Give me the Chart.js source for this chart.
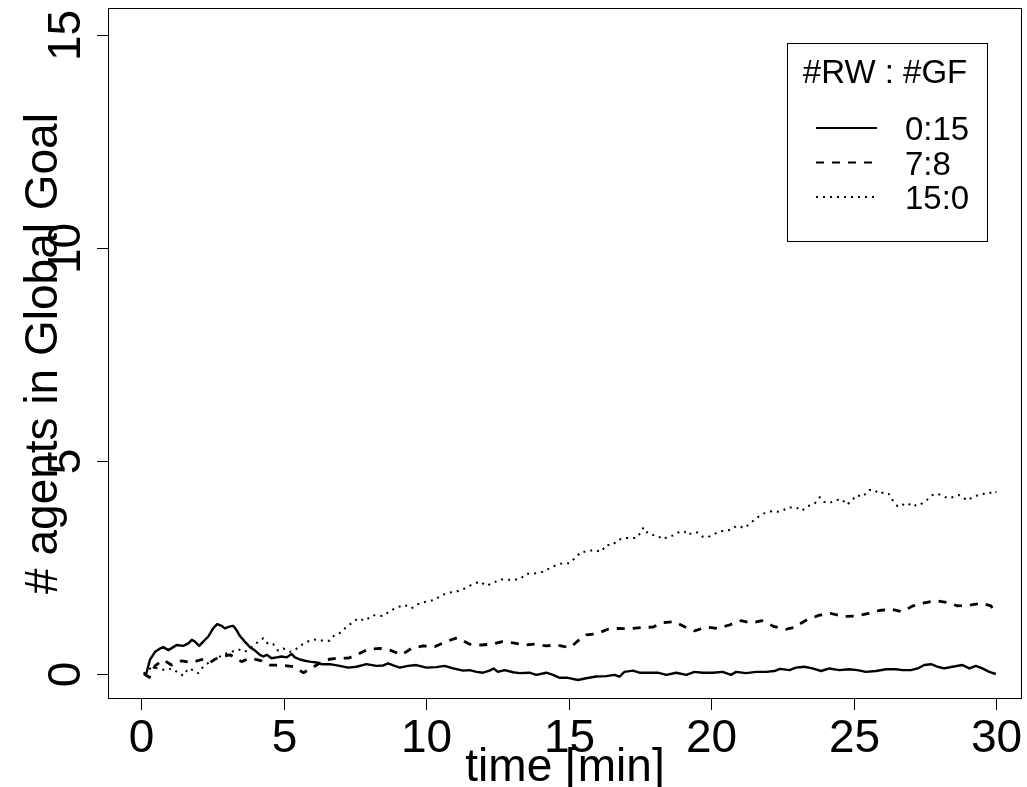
<!DOCTYPE html>
<html>
<head>
<meta charset="utf-8">
<script src="https://cdn.jsdelivr.net/npm/chart.js@4/dist/chart.umd.min.js"></script>
<style>
  html, body { margin: 0; padding: 0; background: #fff; }
  #wrap { width: 1027px; height: 787px; }
</style>
</head>
<body>
<div id="wrap"><canvas id="c" width="1027" height="787"></canvas></div>
<script>
// Agents in the global goal over time, for three RW:GF team mixes
const seriesLabels = ['0:15', '7:8', '15:0'];
const legendTitle = '#RW : #GF';
const xTitle = 'time [min]';
const yTitle = '# agents in Global Goal';
const xTicks = [0, 5, 10, 15, 20, 25, 30];
const yTicks = [0, 5, 10, 15];

// 0:15 (solid)
const solidT = [0.07,0.17,0.3,0.48,0.66,0.77,0.95,1.12,1.24,1.47,1.65,1.77,1.88,2.03,2.17,2.35,2.52,2.66,2.82,2.93,3.09,3.22,3.34,3.46,3.63,3.81,3.99,4.16,4.28,4.4,4.57,4.75,4.92,5.1,5.27,5.39,5.56,5.74,5.91,6.15,6.32,6.61,6.96,7.26,7.55,7.9,8.25,8.49,8.66,8.84,9.07,9.36,9.65,10.0,10.35,10.64,10.94,11.29,11.52,11.76,11.99,12.22,12.36,12.51,12.75,13.04,13.27,13.62,13.86,14.21,14.44,14.68,14.97,15.32,15.61,15.96,16.31,16.6,16.78,16.95,17.25,17.48,17.83,18.12,18.42,18.77,19.12,19.41,19.7,20.05,20.4,20.69,20.87,21.22,21.57,21.92,22.21,22.41,22.74,22.97,23.26,23.55,23.85,24.14,24.49,24.84,25.13,25.42,25.78,26.13,26.48,26.71,27.0,27.24,27.47,27.71,27.94,28.17,28.46,28.81,29.05,29.28,29.51,29.75,29.98];
const solidV = [0.02,0.0,0.33,0.52,0.6,0.63,0.56,0.63,0.68,0.66,0.72,0.8,0.76,0.66,0.76,0.88,1.07,1.17,1.13,1.07,1.11,1.13,1.03,0.89,0.76,0.63,0.55,0.45,0.41,0.45,0.37,0.39,0.41,0.39,0.47,0.39,0.34,0.31,0.29,0.27,0.23,0.23,0.19,0.15,0.17,0.23,0.19,0.2,0.25,0.2,0.15,0.19,0.21,0.15,0.16,0.19,0.13,0.08,0.09,0.05,0.03,0.08,0.13,0.05,0.09,0.04,0.02,0.03,-0.02,0.03,-0.02,-0.09,-0.09,-0.14,-0.1,-0.06,-0.05,-0.02,-0.06,0.05,0.08,0.03,0.03,0.03,-0.02,0.03,-0.02,0.05,0.03,0.03,0.05,-0.02,0.05,0.02,0.05,0.05,0.07,0.12,0.09,0.15,0.17,0.13,0.07,0.13,0.09,0.11,0.09,0.05,0.07,0.11,0.11,0.09,0.09,0.13,0.21,0.23,0.17,0.13,0.17,0.21,0.13,0.19,0.13,0.05,0.0];

// 7:8 (dashed)
const dashedT = [0.1,0.28,0.48,0.77,1.06,1.42,1.77,2.12,2.41,2.7,3.11,3.52,3.81,4.22,4.51,4.92,5.33,5.69,6.03,6.44,6.85,7.26,7.55,7.96,8.37,8.72,9.13,9.48,9.88,10.29,10.7,11.08,11.52,11.93,12.28,12.67,13.04,13.45,13.8,14.21,14.56,14.85,15.05,15.32,15.61,15.96,16.37,16.72,17.13,17.54,17.95,18.27,18.71,19.06,19.41,19.82,20.22,20.63,21.04,21.39,21.78,22.21,22.62,22.97,23.09,23.38,23.79,24.2,24.61,25.08,25.52,25.89,26.3,26.69,27.08,27.47,27.86,28.25,28.64,29.11,29.49,29.81,29.9];
const dashedV = [0.0,-0.08,0.19,0.33,0.21,0.31,0.27,0.34,0.27,0.39,0.45,0.29,0.37,0.31,0.21,0.21,0.17,0.03,0.16,0.33,0.37,0.37,0.45,0.58,0.6,0.56,0.45,0.6,0.66,0.64,0.76,0.85,0.7,0.68,0.7,0.76,0.73,0.68,0.7,0.66,0.68,0.64,0.62,0.78,0.92,0.94,1.05,1.07,1.06,1.09,1.1,1.2,1.23,1.11,1.01,1.1,1.07,1.15,1.25,1.2,1.25,1.11,1.05,1.1,1.17,1.28,1.38,1.42,1.35,1.36,1.42,1.49,1.52,1.46,1.6,1.67,1.72,1.68,1.6,1.62,1.66,1.6,1.5];

// 15:0 (dotted)
const dottedT = [0.1,0.36,0.6,0.83,1.06,1.3,1.47,1.65,1.82,2.0,2.17,2.41,2.64,2.93,3.17,3.4,3.63,3.87,4.05,4.28,4.45,4.63,4.8,4.98,5.21,5.39,5.56,5.74,5.97,6.15,6.38,6.61,6.79,6.96,7.14,7.29,7.37,7.61,7.84,8.13,8.49,8.72,9.01,9.24,9.48,9.71,10.0,10.29,10.53,10.82,11.05,11.35,11.64,11.87,12.11,12.34,12.63,12.92,13.27,13.51,13.8,14.09,14.33,14.56,14.79,15.03,15.26,15.44,15.67,15.84,16.14,16.31,16.54,16.72,17.01,17.36,17.5,17.62,17.77,17.95,18.12,18.3,18.47,18.71,18.88,19.06,19.17,19.35,19.52,19.7,19.87,20.05,20.26,20.46,20.69,20.87,21.01,21.16,21.39,21.63,21.8,21.98,22.15,22.33,22.5,22.68,22.97,23.18,23.38,23.61,23.81,23.96,24.14,24.37,24.58,24.75,24.93,25.1,25.31,25.54,25.72,25.87,26.04,26.22,26.36,26.53,26.69,26.83,27.04,27.2,27.41,27.59,27.76,27.94,28.11,28.32,28.52,28.7,28.99,29.16,29.37,29.57,29.75,29.89,30.0];
const dottedV = [0.0,0.16,0.13,0.09,0.13,0.03,-0.04,0.13,0.09,0.02,0.17,0.29,0.37,0.47,0.52,0.58,0.52,0.63,0.73,0.84,0.7,0.7,0.55,0.6,0.52,0.56,0.66,0.73,0.8,0.81,0.78,0.78,0.92,0.96,1.07,1.15,1.19,1.31,1.25,1.38,1.36,1.48,1.57,1.62,1.54,1.64,1.7,1.74,1.85,1.91,1.93,2.01,2.11,2.17,2.07,2.14,2.22,2.21,2.22,2.35,2.36,2.4,2.48,2.56,2.6,2.6,2.75,2.87,2.87,2.91,2.87,3.03,3.03,3.15,3.19,3.19,3.3,3.44,3.3,3.26,3.24,3.16,3.22,3.26,3.34,3.34,3.26,3.32,3.32,3.22,3.21,3.26,3.34,3.36,3.38,3.47,3.46,3.42,3.55,3.68,3.76,3.79,3.83,3.81,3.83,3.91,3.91,3.83,3.94,3.99,4.15,4.04,4.01,4.08,4.1,3.97,4.07,4.2,4.16,4.32,4.32,4.23,4.26,4.23,4.08,3.94,3.99,3.94,4.01,3.94,4.01,4.1,4.2,4.23,4.18,4.12,4.16,4.2,4.07,4.15,4.2,4.23,4.23,4.3,4.26];

const pts = (t, v) => t.map((x, i) => ({ x: x, y: v[i] }));

const FONT = '"Liberation Sans", Arial, Helvetica, sans-serif';

// Box, axes, tick labels, titles and legend in base-graphics style
const frame = {
  id: 'frame',
  afterDraw(chart) {
    const ctx = chart.ctx;
    const a = chart.chartArea;
    const xs = chart.scales.x, ys = chart.scales.y;
    ctx.save();
    ctx.strokeStyle = '#000';
    ctx.fillStyle = '#000';
    ctx.lineWidth = 1;
    ctx.setLineDash([]);
    ctx.strokeRect(a.left + 0.5, a.top + 0.5, a.right - a.left - 1, a.bottom - a.top - 1);

    // x axis ticks and labels
    ctx.font = '46px ' + FONT;
    ctx.textAlign = 'center';
    ctx.textBaseline = 'alphabetic';
    xTicks.forEach(v => {
      const px = Math.round(xs.getPixelForValue(v)) + 0.5;
      ctx.beginPath();
      ctx.moveTo(px, a.bottom);
      ctx.lineTo(px, a.bottom + 11);
      ctx.stroke();
      ctx.fillText(String(v), px, 752);
    });
    ctx.fillText(xTitle, (a.left + a.right) / 2, 781);

    // y axis ticks and rotated labels
    yTicks.forEach(v => {
      const py = Math.round(ys.getPixelForValue(v)) + 0.5;
      ctx.beginPath();
      ctx.moveTo(a.left, py);
      ctx.lineTo(a.left - 11, py);
      ctx.stroke();
      ctx.save();
      ctx.translate(80, py);
      ctx.rotate(-Math.PI / 2);
      ctx.fillText(String(v), 0, 0);
      ctx.restore();
    });
    ctx.save();
    ctx.translate(57, (a.top + a.bottom) / 2);
    ctx.rotate(-Math.PI / 2);
    ctx.fillText(yTitle, 0, 0);
    ctx.restore();

    // legend
    const lx = 787, ly = 43, lw = 200, lh = 198;
    ctx.lineWidth = 1;
    ctx.strokeRect(lx + 0.5, ly + 0.5, lw, lh);
    ctx.font = '33px ' + FONT;
    ctx.textAlign = 'center';
    ctx.fillText(legendTitle, lx + 98, 83);
    const rowY = [128, 162.5, 197];
    ctx.textAlign = 'left';
    chart.data.datasets.forEach((ds, i) => {
      ctx.beginPath();
      ctx.lineWidth = Math.min(ds.borderWidth, 2);
      ctx.setLineDash(ds.borderDash || []);
      ctx.moveTo(816, rowY[i]);
      ctx.lineTo(877, rowY[i]);
      ctx.stroke();
      ctx.setLineDash([]);
      ctx.fillText(ds.label, 905, rowY[i] + 12);
    });
    ctx.restore();
  }
};

new Chart(document.getElementById('c'), {
  type: 'line',
  data: {
    datasets: [
      { label: seriesLabels[0], data: pts(solidT, solidV), borderColor: '#000', borderWidth: 2.4, borderDash: [] },
      { label: seriesLabels[1], data: pts(dashedT, dashedV), borderColor: '#000', borderWidth: 2.8, borderDash: [8, 8] },
      { label: seriesLabels[2], data: pts(dottedT, dottedV), borderColor: '#000', borderWidth: 2, borderDash: [2, 5] }
    ]
  },
  options: {
    responsive: false,
    animation: false,
    devicePixelRatio: 1,
    layout: { padding: { left: 108, right: 5, top: 8, bottom: 88 } },
    elements: { point: { radius: 0 }, line: { tension: 0, fill: false, borderCapStyle: 'butt', borderJoinStyle: 'round' } },
    plugins: { legend: { display: false }, tooltip: { enabled: false } },
    scales: {
      x: { type: 'linear', display: false, min: -1.17, max: 30.9 },
      y: { type: 'linear', display: false, min: -0.587, max: 15.63 }
    }
  },
  plugins: [frame]
});
</script>
</body>
</html>
